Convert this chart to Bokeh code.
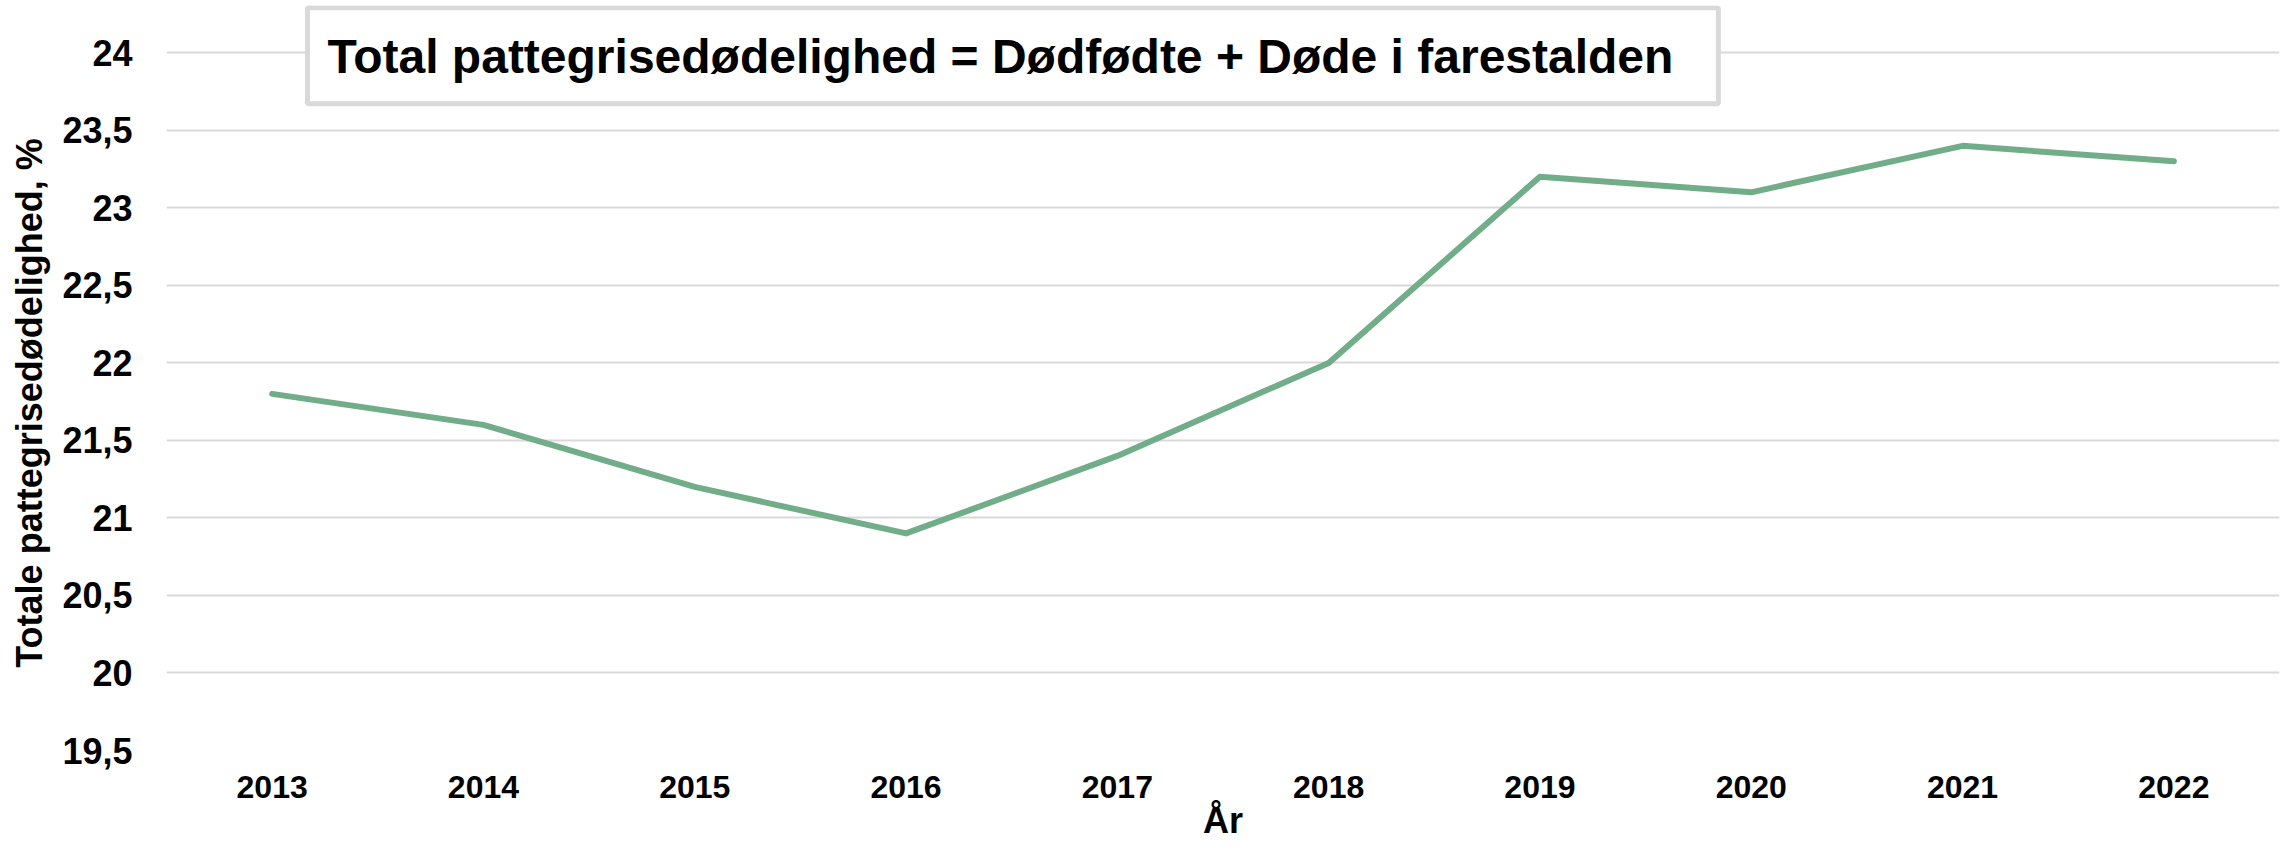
from bokeh.plotting import figure
from bokeh.models import FactorRange, Range1d, FixedTicker, CustomJSTickFormatter, Label
from bokeh.embed import file_html
from bokeh.resources import INLINE

years = ["2013", "2014", "2015", "2016", "2017", "2018", "2019", "2020", "2021", "2022"]
mortality = [21.8, 21.6, 21.2, 20.9, 21.4, 22.0, 23.2, 23.1, 23.4, 23.3]
y_ticks = [19.5, 20, 20.5, 21, 21.5, 22, 22.5, 23, 23.5, 24]
title_text = "Total pattegrisedødelighed = Dødfødte + Døde i farestalden"
x_title = "År"
y_title = "Totale pattegrisedødelighed, %"

FONT = "Liberation Sans"

# frame extends above the top tick (24) so that the title box fits inside it
p = figure(
    width=2293, height=851,
    x_range=FactorRange(factors=years, range_padding=0),
    y_range=Range1d(19.5, 24.305),
    output_backend="svg", toolbar_location=None,
    min_border_left=166, min_border_right=14, min_border_top=5, min_border_bottom=101,
)
p.outline_line_color = None
p.background_fill_color = "white"

p.line(x=years, y=mortality, line_color="#70AD88", line_width=6, line_join="round", line_cap="round")

p.xgrid.grid_line_color = None
p.ygrid.grid_line_color = "#D9D9D9"
p.ygrid.grid_line_width = 2

p.yaxis.ticker = FixedTicker(ticks=y_ticks)
p.yaxis.formatter = CustomJSTickFormatter(code="return tick.toString().replace('.', ',');")

for ax in (p.xaxis, p.yaxis):
    ax.axis_line_color = None
    ax.major_tick_line_color = None
    ax.minor_tick_line_color = None
    ax.major_tick_out = 0
    ax.major_label_text_font = FONT
    ax.major_label_text_font_style = "bold"
    ax.major_label_text_color = "black"
    ax.axis_label_text_font = FONT
    ax.axis_label_text_font_style = "bold"
    ax.axis_label_text_color = "black"

p.yaxis.major_label_text_font_size = "36px"
p.yaxis.major_label_standoff = 34
# trailing no-break spaces centre the visible title on the 19,5-24 span
p.yaxis.axis_label = y_title + "\u00a0" * 5
p.yaxis.axis_label_text_font_size = "36px"
p.yaxis.axis_label_standoff = 9

p.xaxis.major_label_text_font_size = "32px"
p.xaxis.major_label_standoff = 25
p.xaxis.axis_label = x_title
p.xaxis.axis_label_text_font_size = "36px"
p.xaxis.axis_label_standoff = -1

title = Label(
    x=0.667, y=24.29, x_units="data", y_units="data",
    text=title_text, text_font=FONT, text_font_style="bold", text_font_size="48px",
    text_color="black", text_align="left", text_baseline="top",
    background_fill_color="white", border_line_color="#D9D9D9", border_line_width=5,
    padding=dict(left=20, right=45, top=22, bottom=21),
)
p.add_layout(title)

open("out.html", "w").write(file_html(p, INLINE))
